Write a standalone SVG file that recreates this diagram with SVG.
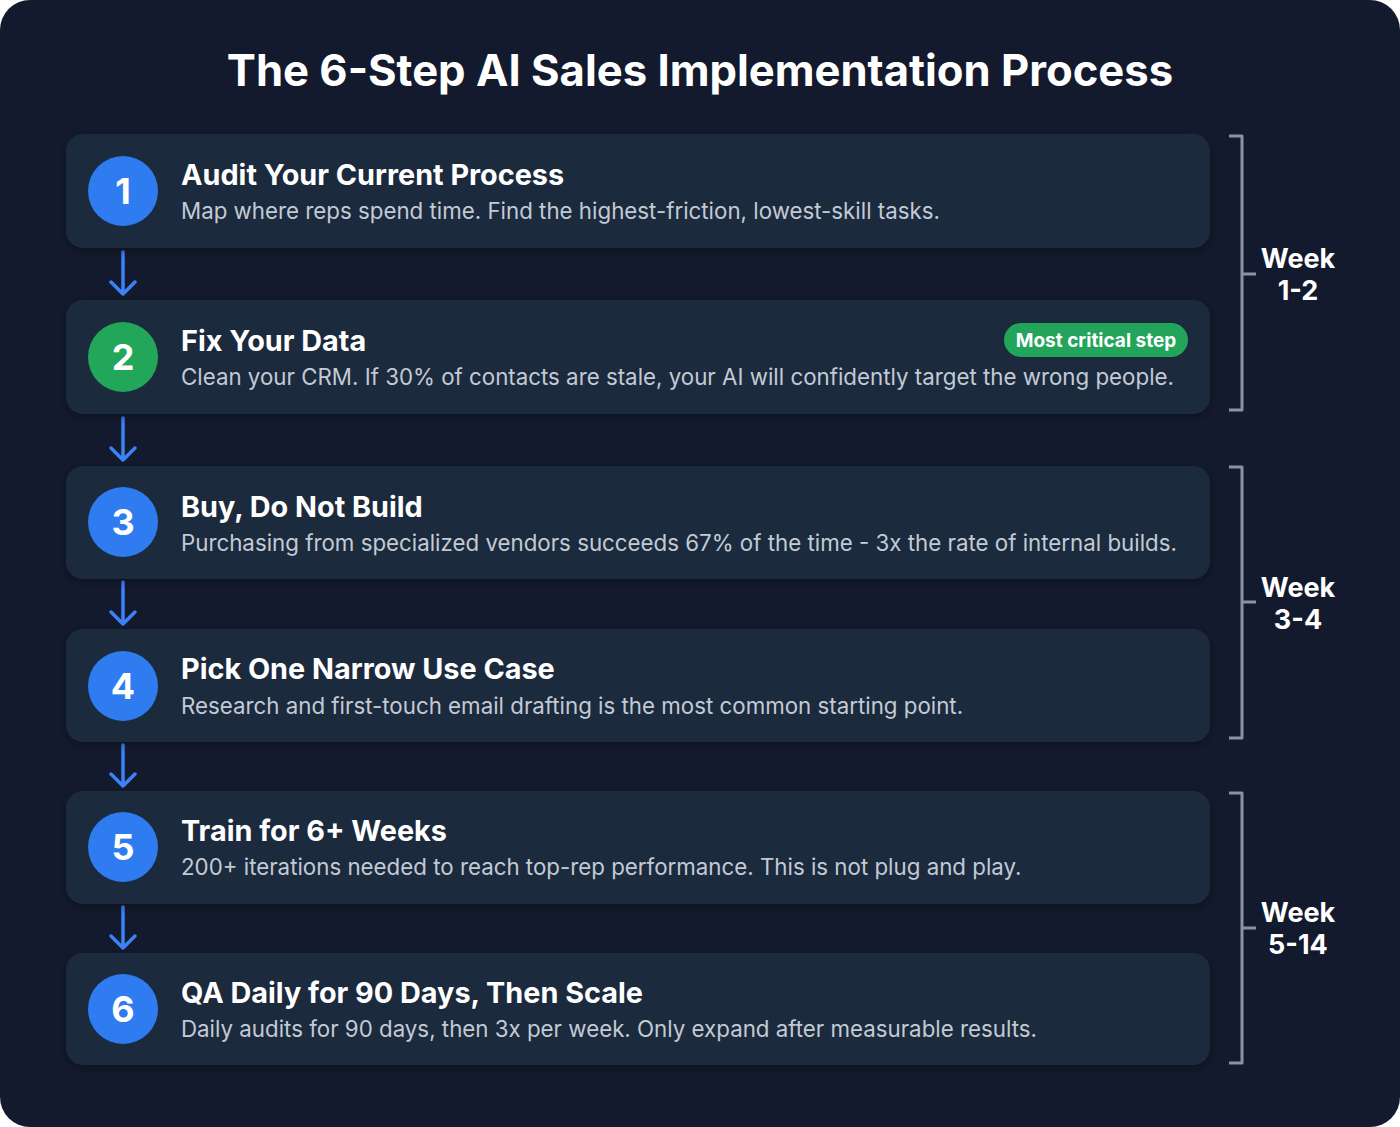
<svg xmlns="http://www.w3.org/2000/svg" width="1400" height="1127" viewBox="0 0 1400 1127">
<defs>
<style>
.card{fill:#1f2a3d}
.num{fill:#ffffff;font-family:Inter,"Liberation Sans",sans-serif;font-weight:700;font-size:36px;text-anchor:middle}
.t{fill:#ffffff;font-family:Inter,"Liberation Sans",sans-serif;font-weight:700;font-size:28.8px}
.d{fill:#c3cad6;font-family:Inter,"Liberation Sans",sans-serif;font-weight:400;font-size:22.3px}
.wk{fill:#ffffff;font-family:Inter,"Liberation Sans",sans-serif;font-weight:700;font-size:27px;text-anchor:middle}
.br{fill:none;stroke:#8a93a6;stroke-width:3;stroke-linejoin:round}
.ar{fill:none;stroke:#3b82f6;stroke-width:3.5;stroke-linecap:round;stroke-linejoin:round}
.blue{fill:#2f7cf0}
</style>
<filter id="sh" x="-5%" y="-20%" width="110%" height="140%"><feDropShadow dx="0" dy="3" stdDeviation="5" flood-color="#000" flood-opacity="0.35"/></filter>
</defs>
<rect width="1400" height="1127" fill="#ffffff"/>
<rect width="1400" height="1127" rx="30" fill="#131a2d"/>
<text x="700" y="86" fill="#ffffff" font-family="Inter,'Liberation Sans',sans-serif" font-weight="700" font-size="43.6" text-anchor="middle">The 6-Step AI Sales Implementation Process</text>

<g id="connectors">
<path class="ar" d="M123 252V294M111 282L123 294L135 282"/>
<path class="ar" d="M123 418V460M111 448L123 460L135 448"/>
<path class="ar" d="M123 582V624M111 612L123 624L135 612"/>
<path class="ar" d="M123 745V786M111 774L123 786L135 774"/>
<path class="ar" d="M123 907V948M111 936L123 948L135 936"/>
</g>

<g id="step1"><rect class="card" x="66" y="134" width="1144" height="114" rx="17" filter="url(#sh)"/><circle class="blue" cx="123" cy="191" r="35"/><text class="num" x="123" y="204">1</text><text class="t" x="181" y="185">Audit Your Current Process</text><text class="d" x="181" y="219">Map where reps spend time. Find the highest-friction, lowest-skill tasks.</text></g>

<g id="step2"><rect class="card" x="66" y="300" width="1144" height="114" rx="17" filter="url(#sh)"/><circle cx="123" cy="357" r="35" fill="#22a75a"/><text class="num" x="123" y="370">2</text><text class="t" x="181" y="351">Fix Your Data</text><text class="d" x="181" y="385">Clean your CRM. If 30% of contacts are stale, your AI will confidently target the wrong people.</text>
<g id="badge"><rect x="1004" y="323" width="184" height="34" rx="17" fill="#22a55a"/><text x="1096" y="347" fill="#ffffff" font-family="Inter,'Liberation Sans',sans-serif" font-weight="700" font-size="19" text-anchor="middle">Most critical step</text></g></g>

<g id="step3"><rect class="card" x="66" y="466" width="1144" height="113" rx="17" filter="url(#sh)"/><circle class="blue" cx="123" cy="522" r="35"/><text class="num" x="123" y="535">3</text><text class="t" x="181" y="517">Buy, Do Not Build</text><text class="d" x="181" y="551">Purchasing from specialized vendors succeeds 67% of the time - 3x the rate of internal builds.</text></g>

<g id="step4"><rect class="card" x="66" y="629" width="1144" height="113" rx="17" filter="url(#sh)"/><circle class="blue" cx="123" cy="686" r="35"/><text class="num" x="123" y="699">4</text><text class="t" x="181" y="679">Pick One Narrow Use Case</text><text class="d" x="181" y="714">Research and first-touch email drafting is the most common starting point.</text></g>

<g id="step5"><rect class="card" x="66" y="791" width="1144" height="113" rx="17" filter="url(#sh)"/><circle class="blue" cx="123" cy="847" r="35"/><text class="num" x="123" y="860">5</text><text class="t" x="181" y="841">Train for 6+ Weeks</text><text class="d" x="181" y="875">200+ iterations needed to reach top-rep performance. This is not plug and play.</text></g>

<g id="step6"><rect class="card" x="66" y="953" width="1144" height="112" rx="17" filter="url(#sh)"/><circle class="blue" cx="123" cy="1009" r="35"/><text class="num" x="123" y="1022">6</text><text class="t" x="181" y="1003">QA Daily for 90 Days, Then Scale</text><text class="d" x="181" y="1037">Daily audits for 90 days, then 3x per week. Only expand after measurable results.</text></g>

<g id="week12"><path class="br" d="M1229 136H1242V410H1229M1242 274H1256"/><text class="wk" x="1298" y="268">Week</text><text class="wk" x="1298" y="300">1-2</text></g>
<g id="week34"><path class="br" d="M1229 467H1242V738H1229M1242 602H1256"/><text class="wk" x="1298" y="597">Week</text><text class="wk" x="1298" y="629">3-4</text></g>
<g id="week514"><path class="br" d="M1229 793H1242V1063H1229M1242 928H1256"/><text class="wk" x="1298" y="922">Week</text><text class="wk" x="1298" y="954">5-14</text></g>
</svg>
